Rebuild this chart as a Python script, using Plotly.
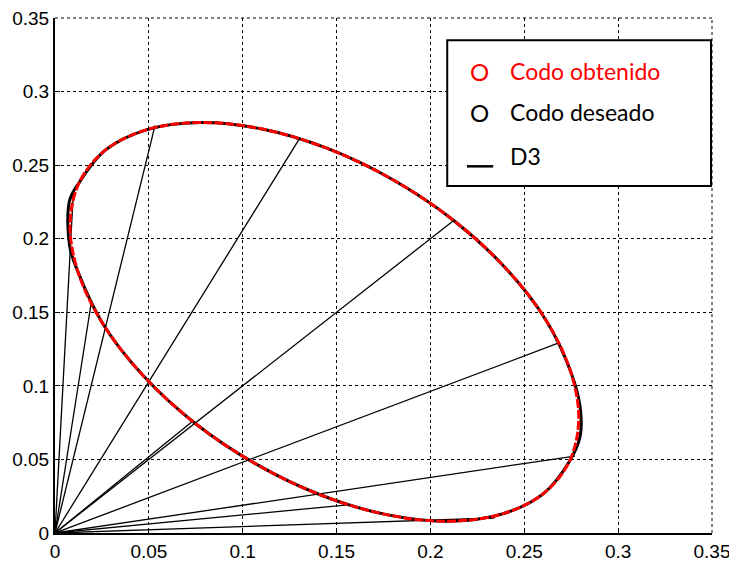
import plotly.graph_objects as go

# curve (elbow / "codo")
obt_x = [0.2602, 0.2740, 0.2790, 0.2747, 0.2615, 0.2402, 0.2124, 0.1798, 0.1448, 0.1097, 0.0769, 0.0486,
         0.0268, 0.0130, 0.0080, 0.0123, 0.0255, 0.0468, 0.0746, 0.1072, 0.1422, 0.1773, 0.2101, 0.2384, 0.2602]
obt_y = [0.0268, 0.0486, 0.0769, 0.1097, 0.1448, 0.1798, 0.2124, 0.2402, 0.2615, 0.2747, 0.2790, 0.2740,
         0.2602, 0.2384, 0.2101, 0.1773, 0.1422, 0.1072, 0.0746, 0.0468, 0.0255, 0.0123, 0.0080, 0.0130, 0.0268]

des_x = [0.2602, 0.2740, 0.2797, 0.2797, 0.2747, 0.2615, 0.2402, 0.2124, 0.1798, 0.1448, 0.1097, 0.0769, 0.0486,
         0.0268, 0.0130, 0.0078, 0.0078, 0.0123, 0.0255, 0.0468, 0.0746, 0.1072, 0.1422, 0.1773, 0.2101, 0.2384, 0.2602]
des_y = [0.0268, 0.0486, 0.0655, 0.0860, 0.1097, 0.1448, 0.1798, 0.2124, 0.2402, 0.2615, 0.2747, 0.2790, 0.2740,
         0.2602, 0.2384, 0.2260, 0.1950, 0.1773, 0.1422, 0.1072, 0.0746, 0.0468, 0.0255, 0.0123, 0.0080, 0.0130, 0.0268]

# D3 lines, from the origin to these points
d3_x = [0.0098, 0.0195, 0.0533, 0.1300, 0.0738, 0.2124, 0.2680, 0.2770, 0.1547, 0.2340]
d3_y = [0.2320, 0.1580, 0.2770, 0.2675, 0.0765, 0.2124, 0.1290, 0.0523, 0.0190, 0.0102]

ticks = [0, 0.05, 0.1, 0.15, 0.2, 0.25, 0.3, 0.35]
tick_text = ["0", "0.05", "0.1", "0.15", "0.2", "0.25", "0.3", "0.35"]

lx, ly = [], []
for x, y in zip(d3_x, d3_y):
    lx += [0, x, None]
    ly += [0, y, None]

fig = go.Figure()
fig.add_trace(go.Scatter(x=lx, y=ly, mode="lines", line=dict(color="black", width=1.3), name="D3"))
fig.add_trace(go.Scatter(x=des_x, y=des_y, mode="lines", line=dict(color="black", width=3, shape="spline"),
                         name="Codo deseado"))
fig.add_trace(go.Scatter(x=obt_x, y=obt_y, mode="lines",
                         line=dict(color="red", width=3, shape="spline", dash="9px,2px"),
                         name="Codo obtenido"))

axis = dict(range=[0, 0.35], tickvals=ticks, ticktext=tick_text, showgrid=True, gridcolor="black",
            griddash="dot", gridwidth=1, showline=True, linecolor="black", linewidth=2,
            ticks="inside", ticklen=5, tickcolor="black", zeroline=False, automargin=False,
            ticklabeloverflow="allow",
            tickfont=dict(family="Liberation Sans", size=19, color="black"))
fig.update_xaxes(**axis)
fig.update_yaxes(**axis)

# top and right edges are dotted grid lines in the original
fig.add_shape(type="line", xref="paper", yref="paper", x0=0, x1=1, y0=1, y1=1,
              line=dict(color="black", width=1, dash="dot"))
fig.add_shape(type="line", xref="paper", yref="paper", x0=1, x1=1, y0=0, y1=1,
              line=dict(color="black", width=1, dash="dot"))

# legend drawn as a box with text
font_leg = "Lato"
fig.add_shape(type="rect", xref="paper", yref="paper", x0=0.597, x1=0.9985, y0=0.674, y1=0.957,
              line=dict(color="black", width=2), fillcolor="white", layer="above")
rows = [("O", "Codo obtenido", "red", 0.897), ("O", "Codo deseado", "black", 0.817)]
for sym, txt, col, yp in rows:
    fig.add_annotation(x=0.628, y=yp, xref="paper", yref="paper", text=sym, showarrow=False,
                       xanchor="left", yanchor="middle", font=dict(family=font_leg, size=24, color=col))
    fig.add_annotation(x=0.69, y=yp, xref="paper", yref="paper", text=txt, showarrow=False,
                       xanchor="left", yanchor="middle", font=dict(family=font_leg, size=23, color=col))
fig.add_annotation(x=0.69, y=0.733, xref="paper", yref="paper", text="D3", showarrow=False,
                   xanchor="left", yanchor="middle", font=dict(family=font_leg, size=23, color="black"))
fig.add_shape(type="line", xref="paper", yref="paper", x0=0.627, x1=0.667, y0=0.712, y1=0.712,
              line=dict(color="black", width=2.5), layer="above")

# page has an 8px body margin, so the margins are shifted by that much
fig.update_layout(width=737, height=563, margin=dict(l=47, r=33, t=10, b=38),
                  plot_bgcolor="white", paper_bgcolor="white", showlegend=False)

fig.write_html("out.html")
